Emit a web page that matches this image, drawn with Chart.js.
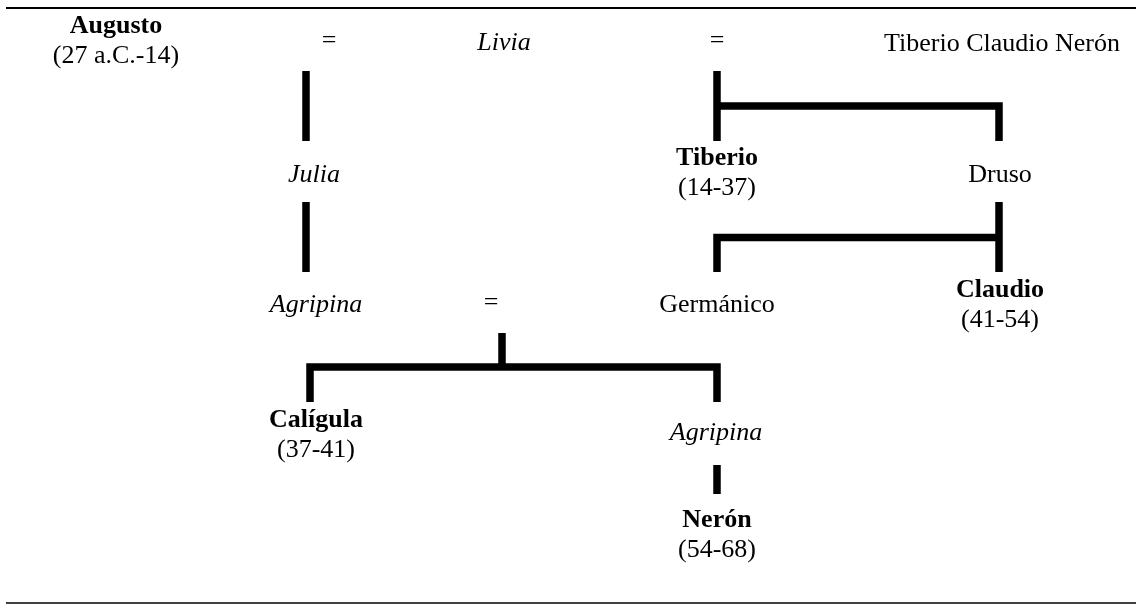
<!DOCTYPE html>
<html lang="es">
<head>
<meta charset="utf-8">
<title>Dinastía Julio-Claudia</title>
<script src="https://cdn.jsdelivr.net/npm/chart.js@4"></script>
<style>
  html, body { margin: 0; padding: 0; background: #fff; }
  #wrap { width: 1136px; height: 604px; position: relative; }
</style>
</head>
<body>
<div id="wrap"><canvas id="tree"></canvas></div>
<script>
/* ── DATA: people (diagram units = pixels of a 1136×604 sheet) ── */
const names  = ['Augusto', 'Livia', 'Tiberio Claudio Nerón', 'Julia', 'Tiberio', 'Druso',
                'Agripina', 'Germánico', 'Claudio', 'Calígula', 'Agripina', 'Nerón'];
const reigns = ['27 a.C.-14', '', '', '', '14-37', '', '', '', '41-54', '37-41', '', '54-68'];
const kinds  = ['emperor', 'woman', 'man', 'woman', 'emperor', 'man',
                'woman', 'man', 'emperor', 'emperor', 'woman', 'emperor'];
const nameX  = [116, 504, 1002, 314, 717, 1000, 316, 717, 1000, 316, 716, 717];
const nameY  = [33, 50, 51, 182, 165, 182, 312, 312, 297, 427, 440, 527];

// marriages (“=” signs)
const marriageX = [329, 717, 491];
const marriageY = [48, 48, 310];

// descent connectors, one polyline each
const linkX = [
  [306, 306],
  [717, 717],
  [717, 999, 999],
  [306, 306],
  [999, 999],
  [999, 717, 717],
  [502, 502],
  [310, 310, 717, 717],
  [717, 717],
];
const linkY = [
  [71, 141],
  [71, 141],
  [106, 106, 141],
  [202, 272],
  [202, 272],
  [237.5, 237.5, 272],
  [333, 367],
  [402, 367, 367, 402],
  [465, 494],
];

// table rules (top and bottom)
const ruleX = [[6, 1136], [6, 1136]];
const ruleY = [[8, 8], [603, 603]];

/* ── DATASETS ── */
const toPts = (xs, ys) => xs.map((v, i) => ({ x: v, y: ys[i] }));

const datasets = [
  ...linkX.map((xs, i) => ({
    data: toPts(xs, linkY[i]),
    showLine: true, borderColor: '#000', borderWidth: 7.5,
    borderCapStyle: 'butt', borderJoinStyle: 'miter',
    pointRadius: 0, clip: false,
  })),
  ...ruleX.map((xs, i) => ({
    data: toPts(xs, ruleY[i]),
    showLine: true, borderColor: '#000', borderWidth: i === 0 ? 2 : 1.5,
    borderCapStyle: 'butt', pointRadius: 0, clip: false,
  })),
];

/* ── LABEL PLUGIN ── */
const FONT = "'Liberation Serif', 'Times New Roman', serif";
const SIZE = 26;
const LINE = 30;

const treeLabels = {
  id: 'treeLabels',
  afterDatasetsDraw(chart) {
    const { ctx, scales: { x, y } } = chart;
    ctx.save();
    ctx.fillStyle = '#000';
    ctx.textAlign = 'center';
    ctx.textBaseline = 'alphabetic';

    names.forEach((n, i) => {
      const px = x.getPixelForValue(nameX[i]);
      const py = y.getPixelForValue(nameY[i]);
      const k  = kinds[i];
      ctx.font = (k === 'emperor' ? 'bold ' : k === 'woman' ? 'italic ' : '') + SIZE + 'px ' + FONT;
      ctx.fillText(n, px, py);
      if (reigns[i]) {
        ctx.font = SIZE + 'px ' + FONT;
        ctx.fillText('(' + reigns[i] + ')', px, py + LINE);
      }
    });

    ctx.font = SIZE + 'px ' + FONT;
    marriageX.forEach((mx, i) => {
      ctx.fillText('=', x.getPixelForValue(mx), y.getPixelForValue(marriageY[i]));
    });
    ctx.restore();
  }
};

new Chart(document.getElementById('tree').getContext('2d'), {
  type: 'scatter',
  data: { datasets },
  options: {
    responsive: true,
    maintainAspectRatio: false,
    animation: false,
    layout: { padding: 0 },
    plugins: { legend: { display: false }, tooltip: { enabled: false } },
    scales: {
      x: { type: 'linear', min: 0, max: 1136, display: false },
      y: { type: 'linear', min: 0, max: 604, reverse: true, display: false },
    },
  },
  plugins: [treeLabels],
});
</script>
</body>
</html>
